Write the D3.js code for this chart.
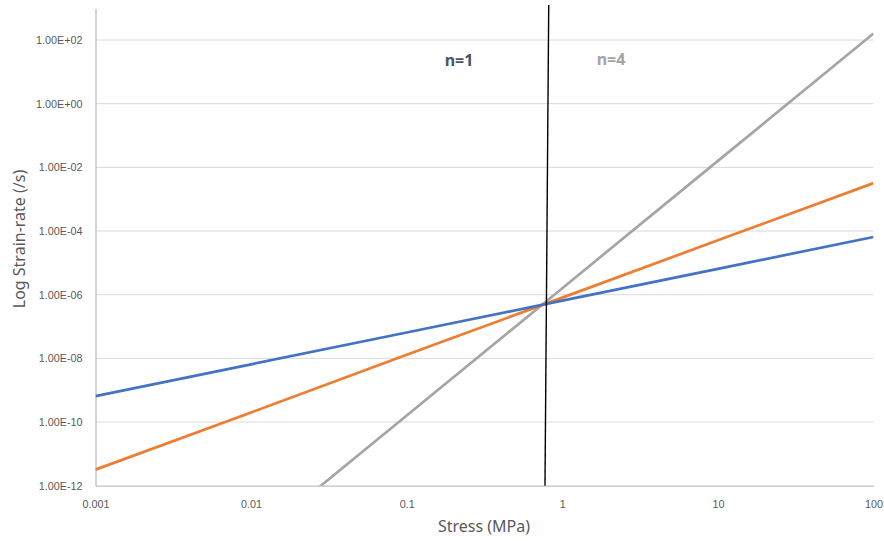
<!DOCTYPE html>
<html>
<head>
<meta charset="utf-8">
<script src="https://cdn.jsdelivr.net/npm/d3@7"></script>
<style>
  html, body { margin: 0; padding: 0; background: #fff; }
  svg { display: block; font-family: "Noto Sans", "Open Sans", sans-serif; }
</style>
</head>
<body>
<svg id="chart" width="884" height="541"></svg>
<script>
// Stress values (MPa) at which each strain-rate series is sampled
const stress = [0.001, 0.01, 0.1, 1, 10, 100];

// Strain-rate (/s) for each stress exponent
const rateN1 = [6.5e-10, 6.5e-9, 6.5e-8, 6.5e-7, 6.5e-6, 6.5e-5];
const rateMid = [3.2e-12, 2.0e-10, 1.3e-8, 8.1e-7, 5.1e-5, 3.2e-3];
const rateN4 = [1.6e-18, 1.6e-14, 1.6e-10, 1.6e-6, 1.6e-2, 1.6e2];

// Vertical marker separating the two regimes
const markerStress = [0.818, 0.774];
const markerRate = [1.26e3, 1e-12];

// Axis ticks
const xTicks = [0.001, 0.01, 0.1, 1, 10, 100];
const xTickLabels = ["0.001", "0.01", "0.1", "1", "10", "100"];
const yTicks = [1e-12, 1e-10, 1e-8, 1e-6, 1e-4, 1e-2, 1e0, 1e2];
const yTickLabels = ["1.00E-12", "1.00E-10", "1.00E-08", "1.00E-06", "1.00E-04", "1.00E-02", "1.00E+00", "1.00E+02"];

const seriesNames = ["n=1", "n=2", "n=4"];
const seriesColors = ["#4472C4", "#ED7D31", "#A5A5A5"];

const svg = d3.select("#chart");
const plotLeft = 95.5, plotRight = 873.5, plotTop = 8.2, plotBottom = 485.7;

const x = d3.scaleLog().domain([0.001, 100]).range([plotLeft, plotRight]);
const y = d3.scaleLog().domain([1e-12, 1e3]).range([plotBottom, plotTop]);

// Horizontal gridlines
svg.append("g")
  .selectAll("line")
  .data(yTicks.filter(v => v > 1e-12))
  .join("line")
  .attr("x1", plotLeft).attr("x2", plotRight)
  .attr("y1", d => y(d)).attr("y2", d => y(d))
  .attr("stroke", "#D9D9D9").attr("stroke-width", 1);

// Axes
const xAxis = d3.axisBottom(x).tickValues(xTicks)
  .tickFormat((d, i) => xTickLabels[i]).tickSize(0).tickPadding(15);
const gx = svg.append("g").attr("transform", `translate(0,${plotBottom})`).call(xAxis);
gx.select(".domain").attr("stroke", "#BFBFBF").attr("stroke-width", 1.3);
gx.selectAll("text").attr("fill", "#595959").attr("font-size", 10.8);

const yAxis = d3.axisLeft(y).tickValues(yTicks)
  .tickFormat((d, i) => yTickLabels[i]).tickSize(0).tickPadding(13);
const gy = svg.append("g").attr("transform", `translate(${plotLeft},0)`).call(yAxis);
gy.select(".domain").attr("stroke", "#BFBFBF").attr("stroke-width", 1.3);
gy.selectAll("text").attr("fill", "#595959").attr("font-size", 10.8);

// Axis titles
svg.append("text")
  .attr("x", 484).attr("y", 532)
  .attr("text-anchor", "middle")
  .attr("fill", "#595959").attr("font-size", 16)
  .text("Stress (MPa)");
svg.append("text")
  .attr("transform", "translate(25,239) rotate(-90)")
  .attr("text-anchor", "middle")
  .attr("fill", "#595959").attr("font-size", 16)
  .text("Log Strain-rate (/s)");

// Series lines, clipped to the plot area
svg.append("clipPath").attr("id", "plot-clip")
  .append("rect").attr("x", plotLeft).attr("y", plotTop)
  .attr("width", plotRight - plotLeft).attr("height", plotBottom - plotTop);

const line = d3.line().x(d => x(d[0])).y(d => y(d[1]));
const seriesData = [rateN1, rateMid, rateN4];
// Drawn in reverse so the n=1 line sits on top
const gLines = svg.append("g").attr("clip-path", "url(#plot-clip)");
[2, 1, 0].forEach(i => {
  gLines.append("path")
    .datum(stress.map((s, j) => [s, seriesData[i][j]]))
    .attr("d", line)
    .attr("fill", "none")
    .attr("stroke", seriesColors[i])
    .attr("stroke-width", 2.7)
    .attr("stroke-linejoin", "round");
});

// Regime boundary
svg.append("path")
  .datum(markerStress.map((s, j) => [s, markerRate[j]]))
  .attr("d", line)
  .attr("fill", "none")
  .attr("stroke", "#000")
  .attr("stroke-width", 1.4);

// Regime labels
svg.append("text")
  .attr("x", 459).attr("y", 66)
  .attr("text-anchor", "middle")
  .attr("font-weight", "bold").attr("font-size", 16)
  .attr("fill", "#44546A")
  .text(seriesNames[0]);
svg.append("text")
  .attr("x", 611).attr("y", 65)
  .attr("text-anchor", "middle")
  .attr("font-weight", "bold").attr("font-size", 16)
  .attr("fill", "#A5A5A5")
  .text(seriesNames[2]);
</script>
</body>
</html>
